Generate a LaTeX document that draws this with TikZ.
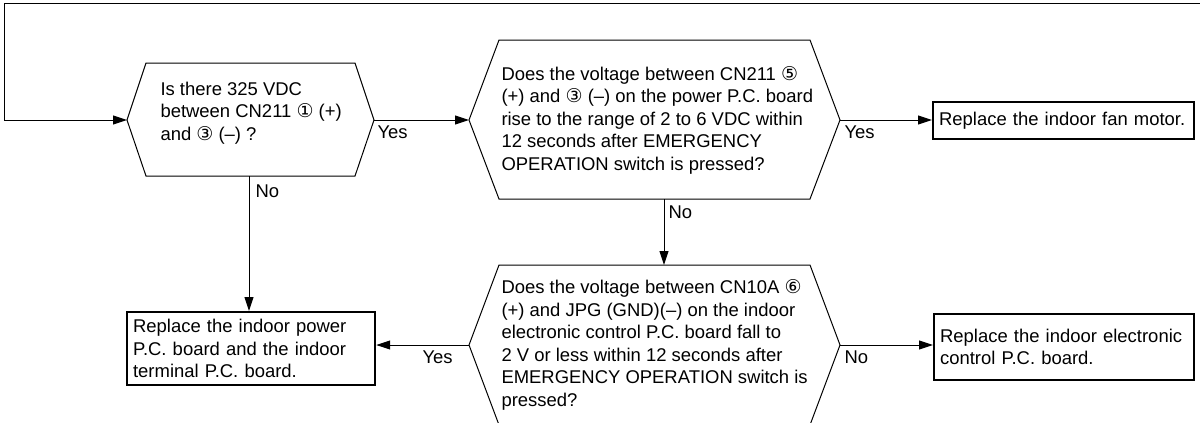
\documentclass[tikz,border=0pt]{standalone}
\usepackage{fontspec}
\usepackage{graphicx}
\setmainfont{Liberation Sans}
\newfontfamily\circfont{DejaVu Sans}
\usetikzlibrary{arrows.meta}
\newcommand{\cnum}[1]{{\circfont\fontsize{19}{22.5}\selectfont #1}}

\begin{document}
\begin{tikzpicture}[x=1pt, y=-1pt, line width=1pt,
  txt/.style={inner sep=0pt, align=left, anchor=west, font=\fontsize{18.45}{22.5}\selectfont},
  lbl/.style={inner sep=0pt, anchor=west, font=\fontsize{18.45}{22.5}\selectfont},
  endbox/.style={draw, line width=2.2pt, anchor=north west, align=left, inner xsep=6pt, inner ysep=0pt, font=\fontsize{18.45}{22.5}\selectfont},
  arr/.style={-{Triangle[length=14pt,width=9pt]}}]
\useasboundingbox (0,0) rectangle (1200,423);
\draw (127,120) coordinate (q1w) -- (146,63) -- (355,63) -- (374,120) coordinate (q1e) -- (355,176) -- (146,176) -- cycle;
\draw (469,120) coordinate (q2w) -- (499,40) -- (810,40) -- (840,120) coordinate (q2e) -- (810,199) -- (499,199) -- cycle;
\draw (469,345) coordinate (q3w) -- (499,265) -- (810,265) -- (840,345) coordinate (q3e) -- (810,425) -- (499,425) -- cycle;
\coordinate (q1s) at (249,176);
\coordinate (q2s) at (664,199);
\coordinate (q3n) at (664,265);
\coordinate (back) at (1200,3);
\node[txt] (q1) at (160,113) {Is there 325 VDC\\between CN211 \cnum{①} (+)\\and \cnum{③} (–) ?};
\node[txt] (q2) at (501,120) {Does the voltage between CN211 \cnum{⑤}\\(+) and \cnum{③} (–) on the power P.C. board\\rise to the range of 2 to 6 VDC within\\12 seconds after EMERGENCY\\OPERATION switch is pressed?};
\node[txt] (q3) at (501,345) {Does the voltage between CN10A \cnum{⑥}\\(+) and JPG (GND)(–) on the indoor\\electronic control P.C. board fall to\\2 V or less within 12 seconds after\\EMERGENCY OPERATION switch is\\pressed?};
\node[endbox, text width=249pt, minimum height=37pt] (fan) at (932,101) {Replace the indoor fan motor.};
\node[endbox, text width=236pt, minimum height=73pt] (power) at (126,311) {Replace the indoor power\\P.C. board and the indoor\\terminal P.C. board.};
\node[endbox, text width=248pt, minimum height=66pt] (ctrl) at (933,313) {Replace the indoor electronic\\control P.C. board.};
\draw[arr] (back) -- (4,3) |- (q1w);
\draw[arr] (q1e) -- (q2w);
\draw[arr] (q2e) -- (q2e -| fan.west);
\draw[arr] (q1s) -- (q1s |- power.north);
\draw[arr] (q2s) -- (q3n);
\draw[arr] (q3w) -- (q3w -| power.east);
\draw[arr] (q3e) -- (q3e -| ctrl.west);
\node[lbl] (y1) at (377,132) {Yes};
\node[lbl] (n1) at (255,191) {No};
\node[lbl] (y2) at (844,132) {Yes};
\node[lbl] (n2) at (668,212) {No};
\node[lbl] (y3) at (422,357) {Yes};
\node[lbl] (n3) at (844,357) {No};
\end{tikzpicture}
\end{document}
